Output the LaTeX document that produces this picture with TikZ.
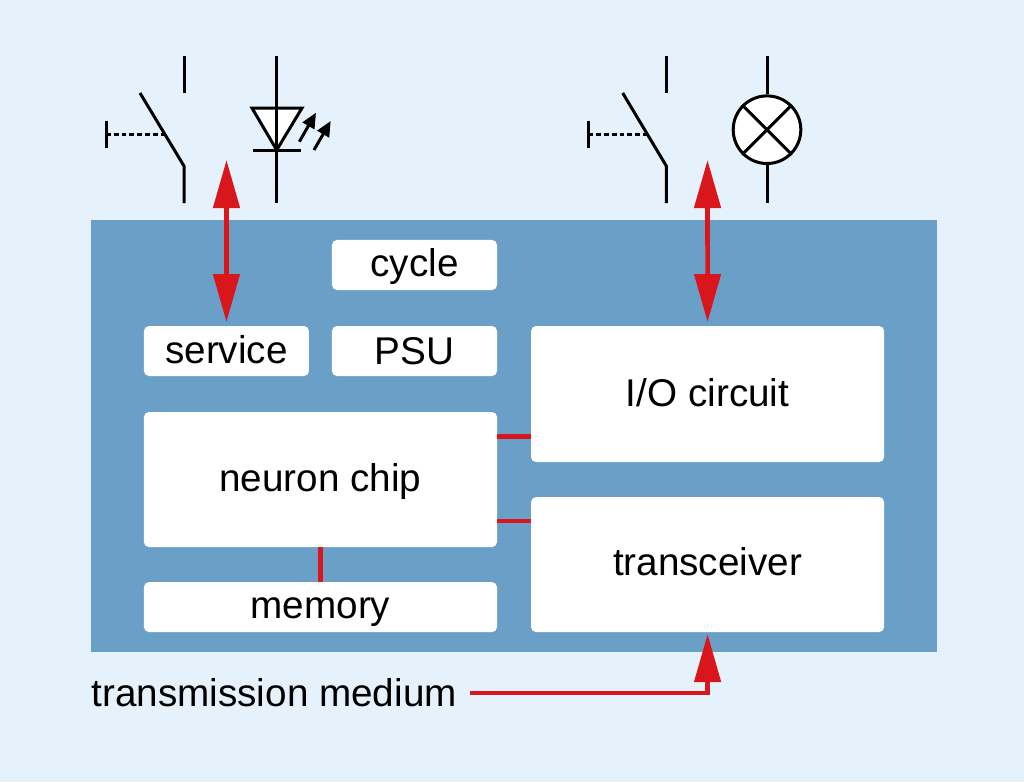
\documentclass[tikz,border=0pt]{standalone}
\usepackage{fontspec}
\setmainfont{Liberation Sans}
\usetikzlibrary{positioning,arrows.meta}
\definecolor{pagebg}{HTML}{E6F2FB}
\definecolor{panelblue}{HTML}{6A9FC8}
\definecolor{linkred}{HTML}{D9161C}

\begin{document}
\begin{tikzpicture}[
    x=0.025cm, y=-0.025cm,
    node distance=0.9cm,
    box/.style={rectangle, rounded corners=0.125cm, minimum width=4.125cm, minimum height=1.25cm, text centered, fill=white, inner sep=0pt, outer sep=0pt, text height=0.575cm, text depth=0pt, font=\fontsize{27.5}{32}\selectfont},
    bigbox/.style={box, minimum width=8.825cm, minimum height=3.375cm},
    link/.style={linkred, line width=0.115cm},
    arrow/.style={link, -{Triangle[length=1.2cm,width=0.65cm]}},
    biarrow/.style={link, {Triangle[length=1.2cm,width=0.65cm]}-{Triangle[length=1.2cm,width=0.65cm]}},
    wire/.style={black, line width=0.075cm},
    tinyarrow/.style={black, line width=0.075cm, -{Triangle[length=0.38cm,width=0.33cm]}}
]

% Page and panel
\fill[pagebg] (0,0) rectangle (1024,782);
\useasboundingbox (0,0) rectangle (1024,782);
\node (panel) [rectangle, fill=panelblue, minimum width=21.15cm, minimum height=10.8cm, inner sep=0pt, outer sep=0pt] at (514,436) {};

% Small boxes
\node (cycle) [box] at (414.5,265) {cycle};
\node (psu) [box, text height=0.675cm, below=of cycle] {PSU};
\node (service) [box, text height=0.625cm, left=0.575cm of psu] {service};

% Chip and memory
\node (neuron) [bigbox, below=of psu.south east, anchor=north east] {neuron chip};
\node (memory) [box, minimum width=8.825cm, below=0.875cm of neuron] {memory};

% Right column
\node (io) [bigbox, minimum height=3.4cm, text height=0.625cm, right=0.85cm of psu.north east, anchor=north west] {I/O circuit};
\node (trans) [bigbox, text height=0.525cm, below=0.875cm of io] {transceiver};

% Medium label
\node (medium) [inner sep=0pt, outer sep=0pt, font=\fontsize{27.5}{32}\selectfont, anchor=west] at (91.5,693) {transmission medium};

% Internal links
\draw[link] ([yshift=1.07cm]neuron.east) -- ([yshift=1.07cm]neuron.east -| io.west);
\draw[link] ([yshift=-1.04cm]neuron.east) -- ([yshift=-1.04cm]neuron.east -| trans.west);
\draw[link] (neuron.south) -- (memory.north);

% Arrows
\coordinate (servicetop) at (226.5,160);
\coordinate (iotop) at (707.5,160);
\draw[biarrow, shorten >=0.1cm] (servicetop) -- (service.north);
\draw[biarrow, shorten >=0.1cm] (iotop) -- (io.north);
\draw[arrow, shorten >=0.05cm] ([xshift=0.34cm]medium.east) -| (trans.south);

% Left switch
\draw[wire] (184,56) -- (184,93);
\draw[wire] (140,93) -- (184,166) -- (184,203);
\draw[wire, dashed, dash pattern=on 0.12cm off 0.075cm] (106,134.7) -- (165,134.7);
\draw[wire] (106,120.7) -- (106,148);

% LED
\draw[wire, fill=white, line join=miter] (252,108) -- (302,108) -- (276.7,150) -- cycle;
\draw[wire] (276.7,56) -- (276.7,203);
\draw[wire] (252.7,150.7) -- (301,150.7);
\draw[tinyarrow] (299.3,141.7) -- (316,112.7);
\draw[tinyarrow] (314,150) -- (330.7,121);

% Right switch
\draw[wire] (666.3,56) -- (666.3,93);
\draw[wire] (622.7,93) -- (666.3,166) -- (666.3,203);
\draw[wire, dashed, dash pattern=on 0.12cm off 0.075cm] (588.3,134.7) -- (647.3,134.7);
\draw[wire] (588.3,120.7) -- (588.3,148);

% Lamp
\node (lamp) [circle, wire, draw, fill=white, minimum size=1.69cm, inner sep=0pt] at (767,129.7) {};
\draw[wire] (lamp.north west) -- (lamp.south east);
\draw[wire] (lamp.north east) -- (lamp.south west);
\coordinate (lamptop) at (767,56);
\coordinate (lampbot) at (767,203);
\draw[wire] (lamptop) -- (lamp.north);
\draw[wire] (lamp.south) -- (lampbot);

\end{tikzpicture}
\end{document}
